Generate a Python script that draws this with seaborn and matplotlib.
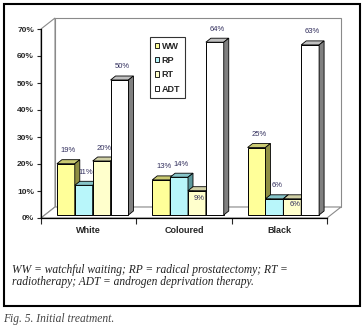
import pandas as pd
import matplotlib.pyplot as plt
import seaborn as sns
from matplotlib.patches import Polygon, Rectangle
from matplotlib.transforms import ScaledTranslation
from matplotlib.ticker import FuncFormatter

# Chart data
groups = ['White', 'Coloured', 'Black']
treatments = ['WW', 'RP', 'RT', 'ADT']
ww = [19, 13, 25]
rp = [11, 14, 6]
rt = [20, 9, 6]
adt = [50, 64, 63]

face_colors = ['#FFFF99', '#B8F6FA', '#FFFFCC', '#FFFFFF']
top_colors = ['#CACA72', '#86C4C8', '#D0D0A6', '#C0C0C0']
side_colors = ['#8E8E42', '#5C989C', '#A4A484', '#808080']

caption_1 = 'WW = watchful waiting; RP = radical prostatectomy; RT ='
caption_2 = 'radiotherapy; ADT = androgen deprivation therapy.'
fig_caption = 'Fig. 5. Initial treatment.'


def main():
    sns.set_style('white')
    plt.rcParams['font.family'] = ['Liberation Sans', 'DejaVu Sans']

    df = pd.DataFrame({
        'group': groups * 4,
        'treatment': [t for t in treatments for _ in groups],
        'value': ww + rp + rt + adt,
    })

    fig = plt.figure(figsize=(3.64, 3.30), dpi=100)
    fig.patch.set_facecolor('white')
    W, H = 364, 330
    ax = fig.add_axes([41 / W, (H - 218) / H, 286 / W, 189 / H])
    ax.patch.set_visible(False)

    sns.barplot(data=df, x='group', y='value', hue='treatment',
                order=groups, hue_order=treatments, palette=face_colors,
                saturation=1, width=0.75, edgecolor='black', linewidth=0.7,
                ax=ax)
    ax.set_xlim(-0.5, 2.5)
    ax.set_ylim(0, 70)
    ax.set_xlabel('')
    ax.set_ylabel('')
    if ax.get_legend() is not None:
        ax.get_legend().remove()

    # 3D-ish chart walls, in axes fraction
    dxa, dya = 14 / 286, 11 / 189
    wall_kw = dict(transform=ax.transAxes, clip_on=False, facecolor='white',
                   edgecolor='#8a8a8a', linewidth=0.8, zorder=0.5)
    ax.add_patch(Rectangle((dxa, dya), 1, 1, **wall_kw))
    ax.add_patch(Polygon([(0, 0), (0, 1), (dxa, 1 + dya), (dxa, dya)], **wall_kw))
    ax.add_patch(Polygon([(0, 0), (1, 0), (1 + dxa, dya), (dxa, dya)], **wall_kw))

    # bars sit a little into the depth
    off = ax.transData + ScaledTranslation(0.04, 0.03, fig.dpi_scale_trans)
    dx = 5 / (286 / 3)
    dy = 4 / (189 / 70)
    label_nudge = {('Coloured', 'RT'): -8, ('Black', 'RT'): -6}

    for i, (cont, name) in enumerate(zip(ax.containers, treatments)):
        for j, bar in enumerate(cont):
            bar.set_transform(off)
            bar.set_zorder(2 + i)
            x0, w, h = bar.get_x(), bar.get_width(), bar.get_height()
            top = Polygon([(x0, h), (x0 + w, h), (x0 + w + dx, h + dy), (x0 + dx, h + dy)],
                          facecolor=top_colors[i], edgecolor='black', linewidth=0.6,
                          transform=off, zorder=2.5 + i, clip_on=False)
            side = Polygon([(x0 + w, 0), (x0 + w + dx, dy), (x0 + w + dx, h + dy), (x0 + w, h)],
                           facecolor=side_colors[i], edgecolor='black', linewidth=0.6,
                           transform=off, zorder=2.5 + i, clip_on=False)
            ax.add_patch(top)
            ax.add_patch(side)
            nudge = label_nudge.get((groups[j], name), 13)
            ax.annotate(f'{h:.0f}%', xy=(x0 + w / 2 + dx / 2, h), xycoords=off,
                        xytext=(0, nudge * 0.72), textcoords='offset points',
                        ha='center', va='center', fontsize=5.5,
                        color='#33305e', zorder=10, annotation_clip=False)

    # axes styling
    for s in ['top', 'right']:
        ax.spines[s].set_visible(False)
    for s in ['left', 'bottom']:
        ax.spines[s].set_color('black')
        ax.spines[s].set_linewidth(0.9)
        ax.spines[s].set_zorder(1)
    ax.set_yticks(range(0, 80, 10))
    ax.yaxis.set_major_formatter(FuncFormatter(lambda v, p: f'{v:.0f}%'))
    ax.tick_params(axis='y', direction='out', length=3, width=0.8,
                   labelsize=6, pad=2, left=True)
    for t in ax.get_yticklabels():
        t.set_fontweight('bold')
    ax.set_xticks([-0.5, 0.5, 1.5, 2.5], minor=True)
    ax.tick_params(axis='x', which='minor', direction='out', length=4, width=0.8, bottom=True)
    ax.tick_params(axis='x', which='major', length=0, labelsize=6.5, pad=6)
    for t in ax.get_xticklabels():
        t.set_fontweight('bold')

    # legend
    handles = [Rectangle((0, 0), 1, 1, facecolor=c, edgecolor='black', linewidth=0.6)
               for c in face_colors]
    leg = fig.legend(handles, treatments, loc='upper left',
                     bbox_to_anchor=(150 / W, 1 - 37 / H), bbox_transform=fig.transFigure,
                     frameon=True, fancybox=False, edgecolor='black',
                     prop={'size': 6.5, 'weight': 'bold'}, handlelength=0.55,
                     handleheight=0.55, handletextpad=0.25, labelspacing=0.6,
                     borderpad=0.5, borderaxespad=0)
    leg.get_frame().set_linewidth(0.8)

    # outer box and captions
    fig.add_artist(Rectangle((4 / W, 1 - 306 / H), 356 / W, 302 / H,
                             transform=fig.transFigure, fill=False,
                             edgecolor='black', linewidth=1.5))
    cap_kw = dict(family='Liberation Serif', style='italic', fontsize=8.3,
                  color='#222222', va='center', ha='left')
    fig.text(12 / W, 1 - 270 / H, caption_1, **cap_kw)
    fig.text(12 / W, 1 - 282 / H, caption_2, **cap_kw)
    fig.text(3 / W, 1 - 319 / H, fig_caption, **{**cap_kw, 'color': '#444444'})

    fig.savefig('out.png', dpi=100)


if __name__ == '__main__':
    main()
